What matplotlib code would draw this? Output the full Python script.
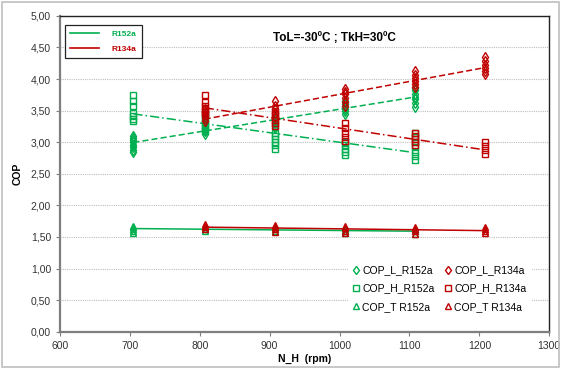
import numpy as np
import matplotlib
matplotlib.use("Agg")
import matplotlib.pyplot as plt
from matplotlib.lines import Line2D

plt.rcParams['font.family'] = ['Liberation Sans', 'DejaVu Sans']

GREEN = '#00B050'
RED = '#C00000'

# ---- data (rpm -> list of COP values) ----
rpm_152 = [705, 807, 908, 1008, 1108]
rpm_134 = [807, 908, 1008, 1108, 1208]

cop_l_152 = [[2.84, 2.88, 2.92, 2.96, 3.00, 3.04, 3.07, 3.10],
             [3.13, 3.17, 3.20, 3.23, 3.26, 3.30, 3.34],
             [3.22, 3.26, 3.30, 3.33, 3.36, 3.40],
             [3.45, 3.49, 3.52, 3.55, 3.60, 3.65],
             [3.56, 3.62, 3.68, 3.72, 3.76, 3.82, 3.86]]
cop_l_134 = [[3.34, 3.38, 3.43, 3.48, 3.52],
             [3.40, 3.46, 3.52, 3.58, 3.65],
             [3.58, 3.63, 3.70, 3.76, 3.80, 3.84],
             [3.88, 3.92, 3.97, 4.02, 4.07, 4.12],
             [4.08, 4.12, 4.18, 4.22, 4.28, 4.35]]
cop_h_152 = [[3.33, 3.37, 3.41, 3.47, 3.58, 3.65, 3.74],
             [3.18, 3.22, 3.27, 3.32, 3.38, 3.44],
             [2.90, 2.95, 3.00, 3.05, 3.10, 3.15],
             [2.80, 2.85, 2.90, 2.95, 3.00],
             [2.72, 2.78, 2.85, 2.92, 3.00, 3.08, 3.15]]
cop_h_134 = [[3.45, 3.48, 3.52, 3.57, 3.64, 3.75],
             [3.25, 3.30, 3.35, 3.40, 3.45, 3.50],
             [3.02, 3.08, 3.15, 3.22, 3.30],
             [2.95, 3.00, 3.05, 3.10, 3.15],
             [2.82, 2.88, 2.94, 3.00]]
cop_t_152 = [[1.57, 1.60, 1.63, 1.66, 1.68],
             [1.60, 1.63, 1.66],
             [1.59, 1.62, 1.65],
             [1.57, 1.60, 1.63],
             [1.55, 1.59, 1.62]]
cop_t_134 = [[1.62, 1.65, 1.68, 1.71],
             [1.58, 1.62, 1.66, 1.69],
             [1.57, 1.60, 1.64, 1.67],
             [1.55, 1.59, 1.62, 1.66],
             [1.56, 1.60, 1.63, 1.66]]

x_ticks = [600, 700, 800, 900, 1000, 1100, 1200, 1300]
y_ticks = [0, 0.5, 1.0, 1.5, 2.0, 2.5, 3.0, 3.5, 4.0, 4.5, 5.0]

fig = plt.figure(figsize=(5.61, 3.69), dpi=100)
# outer chart border
fig.patches.append(plt.Rectangle((0.003, 0.005), 0.994, 0.99, transform=fig.transFigure,
                                 fill=False, edgecolor='#BFBFBF', lw=1.2))
ax = fig.add_axes([0.107, 0.101, 0.872, 0.856])


def plot_series(rpms, groups, color, marker, ms, ls, label):
    xs, ys = [], []
    for r, g in zip(rpms, groups):
        xs += [r] * len(g)
        ys += g
    xs = np.array(xs, float)
    ys = np.array(ys, float)
    ax.plot(xs, ys, linestyle='none', marker=marker, ms=ms, mfc='none',
            mec=color, mew=1.0, zorder=3)
    k, b = np.polyfit(xs, ys, 1)
    xl = np.array([min(rpms), max(rpms)], float)
    ax.plot(xl, k * xl + b, color=color, lw=1.1, ls=ls, zorder=2)
    return Line2D([], [], linestyle='none', marker=marker, ms=4.5, mfc='none',
                  mec=color, mew=1.0, label=label)


DASH = (0, (4, 2))
DASHDOT = (0, (6, 2, 1, 2))
h1 = plot_series(rpm_152, cop_l_152, GREEN, 'd', 5.5, DASH, 'COP_L_R152a')
h2 = plot_series(rpm_152, cop_h_152, GREEN, 's', 4.5, DASHDOT, 'COP_H_R152a')
h3 = plot_series(rpm_152, cop_t_152, GREEN, '^', 4.5, '-', 'COP_T R152a')
h4 = plot_series(rpm_134, cop_l_134, RED, 'd', 5.5, DASH, 'COP_L_R134a')
h5 = plot_series(rpm_134, cop_h_134, RED, 's', 4.5, DASHDOT, 'COP_H_R134a')
h6 = plot_series(rpm_134, cop_t_134, RED, '^', 4.5, '-', 'COP_T R134a')

ax.set_xlim(600, 1300)
ax.set_ylim(0, 5)
ax.set_xticks(x_ticks)
ax.set_yticks(y_ticks)
ax.set_yticklabels([f"{v:.2f}".replace('.', ',') for v in y_ticks])
ax.tick_params(labelsize=7.5, length=3, color='#808080', colors='#333333')
ax.grid(axis='y', color='#BFBFBF', ls=(0, (1, 1)), lw=0.8)
ax.set_axisbelow(True)
for s in ['left', 'bottom']:
    ax.spines[s].set_color('#7F7F7F')
    ax.spines[s].set_linewidth(1.6)
for s in ['top', 'right']:
    ax.spines[s].set_color('#222222')
    ax.spines[s].set_linewidth(1.0)

ax.set_xlabel('N_H  (rpm)', fontsize=7.5, fontweight='bold', labelpad=2)
ax.set_ylabel('COP', fontsize=7.5, fontweight='bold', labelpad=6)

ax.text(0.56, 0.93, 'ToL=-30ºC ; TkH=30ºC', transform=ax.transAxes, fontsize=8.5,
        fontweight='bold', ha='center', va='center')

leg1 = ax.legend(handles=[Line2D([], [], color=GREEN, lw=1.2, label='R152a'),
                          Line2D([], [], color=RED, lw=1.2, label='R134a')],
                 loc='upper left', bbox_to_anchor=(0.002, 0.985),
                 frameon=True, fancybox=False, edgecolor='#222222', framealpha=1,
                 handlelength=3.5, handletextpad=1.5, borderpad=0.6, labelspacing=0.9,
                 prop={'weight': 'bold', 'size': 6})
leg1.get_frame().set_linewidth(0.9)
for t, c in zip(leg1.get_texts(), [GREEN, RED]):
    t.set_color(c)
ax.add_artist(leg1)

leg2 = ax.legend(handles=[h1, h2, h3, h4, h5, h6], ncol=2, loc='lower right',
                 bbox_to_anchor=(0.975, 0.03), fontsize=7.5, frameon=True,
                 edgecolor='none', framealpha=1, handlelength=0.6, handletextpad=0.3,
                 columnspacing=1.0, labelspacing=0.8, borderpad=0.5)

fig.savefig('out.png', dpi=100)
